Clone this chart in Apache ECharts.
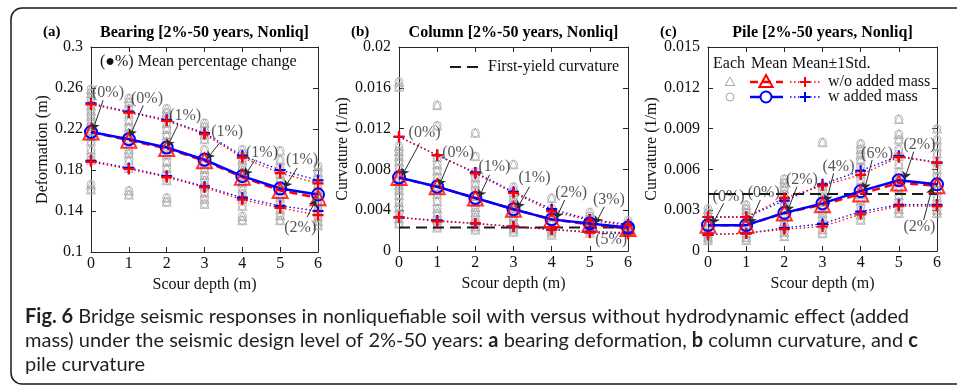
<!DOCTYPE html>
<html>
<head>
<meta charset="utf-8">
<script src="https://cdn.jsdelivr.net/npm/echarts@6/dist/echarts.min.js"></script>
<style>
html, body { margin: 0; padding: 0; background: #fff; }
#chart { width: 957px; height: 388px; }
</style>
</head>
<body>
<div id="chart"></div>
<script>
// scour depth (m)
var depths = [0, 1, 2, 3, 4, 5, 6];

// (a) bearing deformation (m)
var bearEach = [
  [0.259, 0.255, 0.25, 0.243, 0.238, 0.233, 0.228, 0.223, 0.218, 0.213, 0.208, 0.2, 0.193, 0.19, 0.166, 0.161],
  [0.25, 0.246, 0.24, 0.235, 0.228, 0.222, 0.216, 0.21, 0.2, 0.196, 0.19, 0.182, 0.16, 0.156],
  [0.24, 0.236, 0.232, 0.226, 0.22, 0.214, 0.208, 0.2, 0.195, 0.188, 0.182, 0.176, 0.17, 0.153, 0.149],
  [0.226, 0.222, 0.215, 0.21, 0.2, 0.193, 0.187, 0.181, 0.175, 0.17, 0.164, 0.158, 0.152, 0.147],
  [0.2, 0.196, 0.19, 0.185, 0.18, 0.174, 0.168, 0.162, 0.157, 0.152, 0.145, 0.135, 0.131],
  [0.199, 0.19, 0.183, 0.176, 0.17, 0.165, 0.16, 0.154, 0.148, 0.142, 0.136, 0.131],
  [0.184, 0.178, 0.172, 0.166, 0.16, 0.155, 0.15, 0.145, 0.14, 0.135, 0.13, 0.126]
];
var bearMeanWo = [0.217, 0.209, 0.201, 0.189, 0.173, 0.160, 0.153];
var bearMeanW = [0.217, 0.210, 0.202, 0.190, 0.174, 0.162, 0.156];
var bearUpWo = [0.244, 0.236, 0.228, 0.215, 0.192, 0.177, 0.167];
var bearUpW = [0.245, 0.237, 0.229, 0.216, 0.194, 0.180, 0.170];
var bearLowWo = [0.188, 0.181, 0.173, 0.163, 0.151, 0.143, 0.136];
var bearLowW = [0.189, 0.182, 0.174, 0.164, 0.153, 0.145, 0.140];
var bearTicks = { min: 0.1, max: 0.3, step: 0.04 };

// (b) column curvature (1/m)
var colEach = [
  [0.0166, 0.0161, 0.0103, 0.0098, 0.0093, 0.0088, 0.0082, 0.0076, 0.007, 0.0065, 0.006, 0.0055, 0.0048, 0.0043, 0.0037, 0.0032, 0.0027],
  [0.0143, 0.0123, 0.0092, 0.0085, 0.0079, 0.0073, 0.0067, 0.0061, 0.0056, 0.0049, 0.0042, 0.0037, 0.0031, 0.0026, 0.0023],
  [0.0116, 0.0093, 0.0078, 0.0072, 0.0066, 0.006, 0.0054, 0.0048, 0.0043, 0.0038, 0.0033, 0.0028, 0.0024, 0.0021],
  [0.0085, 0.0063, 0.0058, 0.0053, 0.0048, 0.0043, 0.0039, 0.0034, 0.003, 0.0026, 0.0022, 0.0019],
  [0.0052, 0.0042, 0.0038, 0.0034, 0.003, 0.0026, 0.0022, 0.0019, 0.0016],
  [0.0038, 0.0034, 0.003, 0.0027, 0.0024, 0.0021, 0.0018],
  [0.003, 0.0027, 0.0024, 0.0021, 0.0019]
];
var colMeanWo = [0.0072, 0.0063, 0.0052, 0.0041, 0.0031, 0.0026, 0.0022];
var colMeanW = [0.0072, 0.0063, 0.0052, 0.0041, 0.0031, 0.0027, 0.0023];
var colUpWo = [0.0112, 0.0094, 0.0076, 0.0057, 0.0039, 0.0030, 0.0025];
var colUpW = [0.0112, 0.0094, 0.0077, 0.0058, 0.0041, 0.0031, 0.0026];
var colLowWo = [0.0033, 0.0029, 0.0027, 0.0024, 0.0021, 0.0018, 0.0017];
var colLowW = [0.0033, 0.0030, 0.0027, 0.0024, 0.0021, 0.0019, 0.0018];
var colYield = 0.0023;
var colTicks = { min: 0, max: 0.02, step: 0.004 };

// (c) pile curvature (1/m)
var pileEach = [
  [0.0031, 0.0028, 0.0025, 0.0022, 0.0019, 0.0016, 0.0013, 0.001, 0.0008],
  [0.0034, 0.0031, 0.0028, 0.0025, 0.0022, 0.0019, 0.0016, 0.0013, 0.001, 0.0008],
  [0.0053, 0.005, 0.0046, 0.0042, 0.0038, 0.0034, 0.003, 0.0026, 0.0022, 0.0018, 0.0014, 0.0011],
  [0.008, 0.0048, 0.0044, 0.004, 0.0036, 0.0032, 0.0028, 0.0024, 0.002, 0.0016, 0.0013],
  [0.0079, 0.0075, 0.0071, 0.0067, 0.0062, 0.0057, 0.0052, 0.0047, 0.0042, 0.0037, 0.0032, 0.0027, 0.0023],
  [0.0097, 0.0086, 0.0082, 0.0075, 0.007, 0.0064, 0.0058, 0.0052, 0.0046, 0.0041, 0.0036, 0.0031, 0.0028],
  [0.009, 0.0082, 0.0077, 0.0072, 0.0066, 0.006, 0.0055, 0.005, 0.0045, 0.004, 0.0035, 0.003, 0.0028]
];
var pileMeanWo = [0.0019, 0.0019, 0.0028, 0.0034, 0.0042, 0.0050, 0.0048];
var pileMeanW = [0.0019, 0.0019, 0.0028, 0.0035, 0.0044, 0.0052, 0.0049];
var pileUpWo = [0.0025, 0.0025, 0.0039, 0.0048, 0.0056, 0.0069, 0.0065];
var pileUpW = [0.0025, 0.0025, 0.0037, 0.0049, 0.0059, 0.0070, 0.0065];
var pileLowWo = [0.0012, 0.0013, 0.0016, 0.0018, 0.0027, 0.0033, 0.0033];
var pileLowW = [0.0012, 0.0013, 0.0017, 0.0020, 0.0029, 0.0034, 0.0034];
var pileYield = 0.0042;
var pileTicks = { min: 0, max: 0.015, step: 0.003 };

// mean percentage change notes: text, text spot, arrow tail, arrow head (data units)
var bearNotes = [
  ['(0%)', [0.45, 0.255], [0.32, 0.248], [0.05, 0.219]],
  ['(0%)', [1.48, 0.249], [1.38, 0.243], [1.03, 0.213]],
  ['(1%)', [2.49, 0.233], [2.30, 0.224], [2.02, 0.203]],
  ['(1%)', [3.60, 0.217], [3.41, 0.207], [3.07, 0.191]],
  ['(1%)', [4.52, 0.197], [4.34, 0.190], [4.07, 0.175]],
  ['(1%)', [5.58, 0.190], [5.45, 0.182], [5.12, 0.163]],
  ['(2%)', [5.53, 0.124], [5.71, 0.134], [5.95, 0.151]]
];
var colNotes = [
  ['(0%)', [0.67, 0.01154], [0.54, 0.01056], [0.08, 0.0074]],
  ['(0%)', [1.55, 0.00958], [1.33, 0.0089], [1.05, 0.0064]],
  ['(1%)', [2.50, 0.00827], [2.37, 0.00745], [2.10, 0.0053]],
  ['(1%)', [3.55, 0.00713], [3.42, 0.0063], [3.10, 0.0042]],
  ['(2%)', [4.51, 0.00572], [4.34, 0.0050], [4.12, 0.0032]],
  ['(3%)', [5.50, 0.0050], [5.38, 0.00434], [5.15, 0.0027]],
  ['(5%)', [5.56, 0.00108], null, null]
];
var pileNotes = [
  ['(0%)', [0.54, 0.0040], [0.41, 0.0035], [0.12, 0.0020]],
  ['(0%)', [1.46, 0.00429], [1.37, 0.00375], [1.10, 0.0020]],
  ['(2%)', [2.46, 0.00522], [2.33, 0.00473], [2.08, 0.0029]],
  ['(4%)', [3.42, 0.0062], [3.29, 0.00571], [3.10, 0.0036]],
  ['(6%)', [4.43, 0.00713], [4.30, 0.00669], [4.10, 0.0045]],
  ['(2%)', [5.54, 0.0078], [5.39, 0.0073], [5.15, 0.0053]],
  ['(2%)', [5.54, 0.00179], [5.65, 0.00228], [5.88, 0.0047]]
];

var SERIF = '"Liberation Serif", "Times New Roman", serif';
var RED = '#ff0000', BLUE = '#0000ff', GRAY = '#a6a6a6', AXIS = '#262626';
var PLUS = 'path://M4,0H6V4H10V6H6V10H4V6H0V4H4Z';

var panels = [
  { name: 'Deformation (m)', title: 'Bearing [2%-50 years, Nonliq]', tag: '(a)',
    grid: { left: 91, top: 47, width: 227, height: 205 }, ticks: bearTicks, nameGap: 40,
    each: bearEach, meanWo: bearMeanWo, meanW: bearMeanW, upWo: bearUpWo, upW: bearUpW,
    lowWo: bearLowWo, lowW: bearLowW, yieldLevel: null, notes: bearNotes },
  { name: 'Curvature (1/m)', title: 'Column [2%-50 years, Nonliq]', tag: '(b)',
    grid: { left: 399, top: 47, width: 229, height: 204 }, ticks: colTicks, nameGap: 46,
    each: colEach, meanWo: colMeanWo, meanW: colMeanW, upWo: colUpWo, upW: colUpW,
    lowWo: colLowWo, lowW: colLowW, yieldLevel: colYield, notes: colNotes },
  { name: 'Curvature (1/m)', title: 'Pile [2%-50 years, Nonliq]', tag: '(c)',
    grid: { left: 708, top: 47, width: 229, height: 204 }, ticks: pileTicks, nameGap: 46,
    each: pileEach, meanWo: pileMeanWo, meanW: pileMeanW, upWo: pileUpWo, upW: pileUpW,
    lowWo: pileLowWo, lowW: pileLowW, yieldLevel: pileYield, notes: pileNotes }
];

function pairs(vals) {
  return depths.map(function (d, k) { return [d, vals[k]]; });
}

var grids = [], xAxes = [], yAxes = [], series = [], graphics = [];
var tickStyle = { inside: true, length: 5, lineStyle: { color: AXIS, width: 1 } };
var lineStyleAxis = { show: true, onZero: false, lineStyle: { color: AXIS, width: 1 } };

panels.forEach(function (p, i) {
  grids.push(p.grid);
  xAxes.push({
    gridIndex: i, type: 'value', position: 'bottom', min: 0, max: 6, interval: 1,
    axisLine: lineStyleAxis, axisTick: tickStyle, splitLine: { show: false },
    axisLabel: { fontFamily: SERIF, fontSize: 16, color: '#111', margin: 4 },
    name: 'Scour depth (m)', nameLocation: 'middle', nameGap: 22,
    nameTextStyle: { fontFamily: SERIF, fontSize: 16, color: '#111' }
  });
  xAxes.push({
    gridIndex: i, type: 'value', position: 'top', min: 0, max: 6, interval: 1,
    axisLine: lineStyleAxis, axisTick: tickStyle, splitLine: { show: false },
    axisLabel: { show: false }
  });
  yAxes.push({
    gridIndex: i, type: 'value', position: 'left',
    min: p.ticks.min, max: p.ticks.max, interval: p.ticks.step,
    axisLine: lineStyleAxis, axisTick: tickStyle, splitLine: { show: false },
    axisLabel: { fontFamily: SERIF, fontSize: 16, color: '#111', margin: 8 },
    name: p.name, nameLocation: 'middle', nameGap: p.nameGap,
    nameTextStyle: { fontFamily: SERIF, fontSize: 16, color: '#111' }
  });
  yAxes.push({
    gridIndex: i, type: 'value', position: 'right',
    min: p.ticks.min, max: p.ticks.max, interval: p.ticks.step,
    axisLine: lineStyleAxis, axisTick: tickStyle, splitLine: { show: false },
    axisLabel: { show: false }
  });

  var ax = { xAxisIndex: 2 * i, yAxisIndex: 2 * i, clip: false, animation: false };
  var gray = [];
  p.each.forEach(function (vals, k) {
    vals.forEach(function (v) { gray.push([depths[k], v]); });
  });
  series.push(Object.assign({
    type: 'scatter', data: gray, symbol: 'triangle', symbolSize: 9, z: 1,
    itemStyle: { color: 'rgba(0,0,0,0)', borderColor: GRAY, borderWidth: 1 }
  }, ax));
  series.push(Object.assign({
    type: 'scatter', data: gray, symbol: 'circle', symbolSize: 8, z: 1,
    itemStyle: { color: 'rgba(0,0,0,0)', borderColor: GRAY, borderWidth: 1 }
  }, ax));

  if (p.yieldLevel !== null) {
    series.push(Object.assign({
      type: 'line', data: depths.map(function (d) { return [d, p.yieldLevel]; }),
      symbol: 'none', z: 2, lineStyle: { color: '#1a1a1a', width: 2, type: [11, 6] }
    }, ax));
  }

  [[p.upW, BLUE], [p.lowW, BLUE], [p.upWo, RED], [p.lowWo, RED]].forEach(function (s) {
    series.push(Object.assign({
      type: 'line', data: pairs(s[0]), symbol: PLUS, symbolSize: 11, z: 3,
      lineStyle: { color: s[1], width: 1.3, type: [1.5, 2.5] },
      itemStyle: { color: s[1] }
    }, ax));
  });

  series.push(Object.assign({
    type: 'line', data: pairs(p.meanWo), symbol: 'none', z: 4,
    lineStyle: { color: RED, width: 2.5, type: [8, 5] }
  }, ax));
  series.push(Object.assign({
    type: 'line', data: pairs(p.meanW), symbol: 'circle', symbolSize: 12, z: 5,
    lineStyle: { color: BLUE, width: 2.5 },
    itemStyle: { color: 'rgba(0,0,0,0)', borderColor: BLUE, borderWidth: 2 }
  }, ax));
  series.push(Object.assign({
    type: 'scatter', data: pairs(p.meanWo), symbol: 'triangle', symbolSize: 15, z: 6,
    itemStyle: { color: 'rgba(0,0,0,0)', borderColor: RED, borderWidth: 2 }
  }, ax));

  // note texts and their arrows
  series.push(Object.assign({
    type: 'scatter', z: 7, symbolSize: 1,
    data: p.notes.map(function (n) { return [n[1][0], n[1][1], n[0]]; }),
    itemStyle: { color: 'rgba(0,0,0,0)' },
    label: { show: true, position: 'inside', formatter: function (q) { return q.data[2]; },
      fontFamily: SERIF, fontSize: 16, color: '#2b2b2b' }
  }, ax));
  series.push({
    type: 'lines', coordinateSystem: 'cartesian2d', xAxisIndex: 2 * i, yAxisIndex: 2 * i,
    z: 7, animation: false, silent: true, symbol: ['none', 'arrow'], symbolSize: 7,
    lineStyle: { color: '#2b2b2b', width: 1, opacity: 1 },
    data: p.notes.filter(function (n) { return n[2]; }).map(function (n) {
      return { coords: [n[2], n[3]] };
    })
  });

  graphics.push({ type: 'text', x: p.grid.left + p.grid.width / 2, y: 33,
    style: { text: p.title, fontFamily: SERIF, fontSize: 16, fontWeight: 'bold', fill: '#000',
      align: 'center', verticalAlign: 'middle' } });
  graphics.push({ type: 'text', x: p.grid.left - 48, y: 32,
    style: { text: p.tag, fontFamily: SERIF, fontSize: 15, fontWeight: 'bold', fill: '#000',
      align: 'left', verticalAlign: 'middle' } });
});

function txt(x, y, s, size) {
  return { type: 'text', x: x, y: y, style: { text: s, fontFamily: SERIF, fontSize: size || 16,
    fill: '#111', align: 'left', verticalAlign: 'middle' } };
}
function seg(x1, x2, y, color, dash, w) {
  return { type: 'line', shape: { x1: x1, y1: y, x2: x2, y2: y },
    style: { stroke: color, lineWidth: w, lineDash: dash } };
}
function plus(x, y, color) {
  return { type: 'group', children: [
    { type: 'line', shape: { x1: x - 5, y1: y, x2: x + 5, y2: y }, style: { stroke: color, lineWidth: 2 } },
    { type: 'line', shape: { x1: x, y1: y - 5, x2: x, y2: y + 5 }, style: { stroke: color, lineWidth: 2 } }
  ] };
}
function tri(x, y, r, color, w) {
  return { type: 'polygon', shape: { points: [[x, y - r], [x + r * 0.95, y + r * 0.7], [x - r * 0.95, y + r * 0.7]] },
    style: { fill: 'none', stroke: color, lineWidth: w } };
}

// (a) note, (b) yield legend, (c) legend
graphics.push(txt(100, 62, '(\u25CF%) Mean percentage change'));
graphics.push(seg(450, 481, 67, '#1a1a1a', [11, 6], 2));
graphics.push(txt(488, 67, 'First-yield curvature'));
graphics.push(txt(713, 64, 'Each'), txt(751, 64, 'Mean'), txt(792, 64, 'Mean\u00B11Std.'));
graphics.push(tri(730, 82, 5, GRAY, 1));
graphics.push(seg(750, 783, 82, RED, [8, 5], 2.5), tri(766, 82, 7, RED, 2));
graphics.push(seg(790, 821, 82, RED, [1.5, 2.5], 1.3), plus(805, 82, RED));
graphics.push(txt(828, 82, 'w/o added mass'));
graphics.push({ type: 'circle', shape: { cx: 730, cy: 97, r: 4 }, style: { fill: 'none', stroke: GRAY, lineWidth: 1 } });
graphics.push(seg(750, 783, 97, BLUE, null, 2.5),
  { type: 'circle', shape: { cx: 766, cy: 97, r: 5.5 }, style: { fill: '#fff', stroke: BLUE, lineWidth: 2 } });
graphics.push(seg(790, 821, 97, BLUE, [1.5, 2.5], 1.3), plus(805, 97, BLUE));
graphics.push(txt(828, 97, 'w added mass'));

// figure frame and caption
graphics.push({ type: 'rect', shape: { x: 11, y: 8, width: 990, height: 376, r: 11 },
  style: { fill: 'none', stroke: '#1a1a1a', lineWidth: 1.5 }, z: -1 });
var CAP = '"Lato", "Open Sans", sans-serif';
var capRich = { b: { fontFamily: CAP, fontSize: 20, fontWeight: 'bold', fill: '#231f20' } };
[
  '{b|Fig. 6} Bridge seismic responses in nonliquefiable soil with versus without hydrodynamic effect (added',
  'mass) under the seismic design level of 2%-50 years: {b|a} bearing deformation, {b|b} column curvature, and {b|c}',
  'pile curvature'
].forEach(function (line, k) {
  graphics.push({ type: 'text', x: 25, y: 317 + k * 24,
    style: { text: line, fontFamily: CAP, fontSize: 20, fill: '#231f20', rich: capRich,
      align: 'left', verticalAlign: 'middle' } });
});

var chart = echarts.init(document.getElementById('chart'), null, { renderer: 'canvas' });
chart.setOption({
  animation: false,
  backgroundColor: '#fff',
  grid: grids,
  xAxis: xAxes,
  yAxis: yAxes,
  series: series,
  graphic: graphics
});
</script>
</body>
</html>
